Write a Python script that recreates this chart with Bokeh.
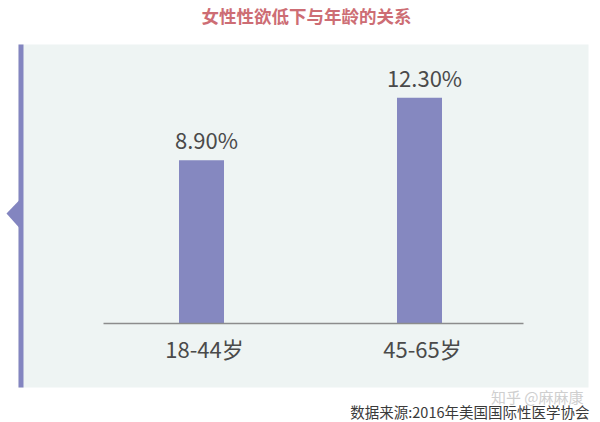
from bokeh.plotting import figure
from bokeh.models import Range1d, ColumnDataSource
from bokeh.core.properties import value
from bokeh.embed import file_html
from bokeh.resources import INLINE

# ---- data ----
categories = ["18-44岁", "45-65岁"]
values = [8.9, 12.3]
value_labels = ["%.2f%%" % v for v in values]
title_text = "女性性欲低下与年龄的关系"
source_text = "数据来源:2016年美国国际性医学协会"
watermark = "知乎 @麻麻康"

# ---- layout helpers (page px -> data units) ----
W, H = 600, 422
OFF = 0                    # canvas offset on the page
X0, XS = 201.0, 218.0      # page x of category 0, px per category
Y0, YS = 323.0, 18.35      # page y of value 0, px per percent


def dx(px):
    return (px - X0) / XS


def dy(py):
    return (Y0 - py) / YS


p = figure(width=W, height=H, output_backend="svg", toolbar_location=None,
           x_range=Range1d(dx(OFF), dx(OFF + W)), y_range=Range1d(dy(OFF + H), dy(OFF)),
           min_border=0, outline_line_color=None)
p.axis.visible = False
p.grid.visible = False
p.background_fill_color = "white"
p.border_fill_color = "white"

FONT = value("Noto Sans CJK SC")

# panel
p.quad(left=dx(18), right=dx(588), top=dy(44), bottom=dy(387),
       fill_color="#eef4f3", line_color=None)
p.quad(left=dx(18), right=dx(23), top=dy(44), bottom=dy(387),
       fill_color="#8385c0", line_color=None)
p.patch(x=[dx(6), dx(18.5), dx(18.5)], y=[dy(213), dy(200), dy(227)],
        fill_color="#8385c0", line_color=None)

# bars
xs = list(range(len(categories)))
src = ColumnDataSource(dict(x=xs, top=values, cat=categories, lab=value_labels))
p.vbar(x="x", top="top", bottom=0, width=45 / XS, source=src,
       fill_color="#8588c0", line_color=None)

# baseline
p.segment(x0=dx(103), x1=dx(523), y0=0, y1=0, line_color="#8c8c8c", line_width=1.5)

# value labels
p.text(x="x", y="top", text="lab", source=src, text_font=FONT,
       text_font_size="22px", text_color="#4a4a4a", text_align="center",
       text_baseline="bottom", y_offset=-5, x_offset=5)

# category labels
p.text(x="x", y=0, text="cat", source=src, text_font=FONT,
       text_font_size="22px", text_color="#4a4a4a", text_align="center",
       text_baseline="top", y_offset=8, x_offset=3)

# title
p.text(x=[dx(306)], y=[dy(15)], text=[title_text], text_font=FONT,
       text_font_size="17.5px", text_font_style="bold", text_color="#cd6d74",
       text_align="center", text_baseline="middle")

# watermark
p.text(x=[dx(583)], y=[dy(396)], text=[watermark], text_font=FONT,
       text_font_size="15px", text_color="#cfcfcf",
       text_align="right", text_baseline="middle")

# source
p.text(x=[dx(589)], y=[dy(411)], text=[source_text], text_font=FONT,
       text_font_size="14.5px", text_color="#3a3a3a",
       text_align="right", text_baseline="alphabetic")

open("out.html", "w").write(file_html(p, INLINE))
